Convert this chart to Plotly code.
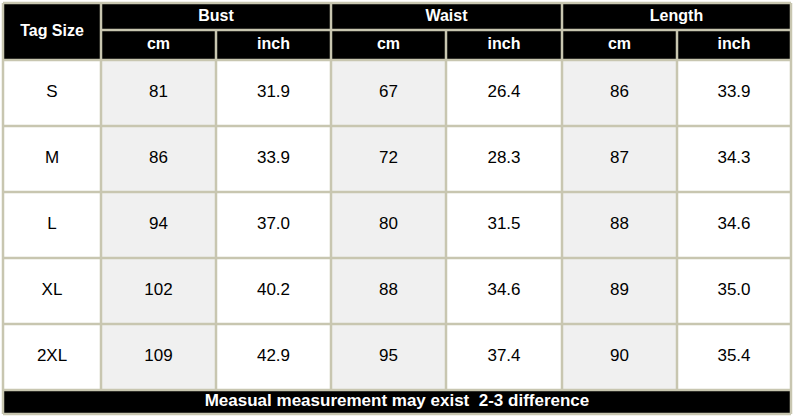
import plotly.graph_objects as go

sizes = ['S', 'M', 'L', 'XL', '2XL']
bust_cm = [81, 86, 94, 102, 109]
bust_in = [31.9, 33.9, 37.0, 40.2, 42.9]
waist_cm = [67, 72, 80, 88, 95]
waist_in = [26.4, 28.3, 31.5, 34.6, 37.4]
length_cm = [86, 87, 88, 89, 90]
length_in = [33.9, 34.3, 34.6, 35.0, 35.4]
groups = ['Bust', 'Waist', 'Length']
units = ['cm', 'inch']
note = 'Measual measurement may exist\u00a0 2-3 difference'

# grid geometry in pixel units of the 795x419 canvas
col_edges = [3, 101, 216, 331, 446, 562, 677, 791]
row_edges = [3, 30, 60, 126, 192, 258, 324, 390, 414]
BORDER = '#c8c6b0'
GREY = '#f0f0f0'
FONT = 'Liberation Sans'

columns = [bust_cm, bust_in, waist_cm, waist_in, length_cm, length_in]

fig = go.Figure()
shapes = []

def rect(x0, x1, y0, y1, fill):
    shapes.append(dict(type='rect', xref='x', yref='y', x0=x0, x1=x1, y0=y0, y1=y1,
                       fillcolor=fill, line=dict(width=0), layer='below'))

# header background + footer
rect(col_edges[0], col_edges[-1], row_edges[0], row_edges[2], 'black')
rect(col_edges[0], col_edges[-1], row_edges[-2], row_edges[-1], 'black')

# body cells, cm columns shaded
for i in range(len(sizes)):
    for j in range(len(columns)):
        fill = GREY if j % 2 == 0 else 'white'
        rect(col_edges[j + 1], col_edges[j + 2], row_edges[i + 2], row_edges[i + 3], fill)

def line(x0, y0, x1, y1):
    shapes.append(dict(type='line', xref='x', yref='y', x0=x0, x1=x1, y0=y0, y1=y1,
                       line=dict(color=BORDER, width=2.5), layer='above'))

# horizontal lines
line(col_edges[0], row_edges[0], col_edges[-1], row_edges[0])
line(col_edges[1], row_edges[1], col_edges[-1], row_edges[1])
for y in row_edges[2:]:
    line(col_edges[0], y, col_edges[-1], y)
# vertical lines
for k, x in enumerate(col_edges):
    if k in (0, len(col_edges) - 1):
        line(x, row_edges[0], x, row_edges[-1])
    elif k % 2 == 1:
        line(x, row_edges[0], x, row_edges[-2])
    else:
        line(x, row_edges[1], x, row_edges[-2])

def mid(a, b):
    return (a + b) / 2

# header text
hx, hy, ht = [], [], []
hx.append(mid(col_edges[0], col_edges[1])); hy.append(mid(row_edges[0], row_edges[2])); ht.append('Tag Size')
for g, name in enumerate(groups):
    hx.append(mid(col_edges[2 * g + 1], col_edges[2 * g + 3])); hy.append(mid(row_edges[0], row_edges[1])); ht.append(name)
    for u, unit in enumerate(units):
        hx.append(mid(col_edges[2 * g + 1 + u], col_edges[2 * g + 2 + u])); hy.append(mid(row_edges[1], row_edges[2])); ht.append(unit)

fig.add_trace(go.Scatter(x=hx, y=hy, text=ht, mode='text', hoverinfo='skip',
                         textfont=dict(family=FONT, size=16, color='white', weight='bold')))

fig.add_trace(go.Scatter(x=[mid(col_edges[0], col_edges[-1])], y=[mid(row_edges[-2], row_edges[-1])],
                         text=[note], mode='text', hoverinfo='skip',
                         textfont=dict(family=FONT, size=17, color='white', weight='bold')))

# body text
bx, by, bt = [], [], []
for i, s in enumerate(sizes):
    yc = mid(row_edges[i + 2], row_edges[i + 3])
    bx.append(mid(col_edges[0], col_edges[1])); by.append(yc); bt.append(s)
    for j, col in enumerate(columns):
        v = col[i]
        bx.append(mid(col_edges[j + 1], col_edges[j + 2])); by.append(yc)
        bt.append(str(v) if j % 2 == 0 else f'{v:.1f}')

fig.add_trace(go.Scatter(x=bx, y=by, text=bt, mode='text', hoverinfo='skip',
                         textfont=dict(family=FONT, size=17, color='black')))

fig.update_layout(
    width=795, height=419,
    margin=dict(l=0, r=0, t=0, b=0),
    paper_bgcolor='white', plot_bgcolor='white',
    showlegend=False,
    shapes=shapes,
    xaxis=dict(range=[0, 795], visible=False, fixedrange=True),
    yaxis=dict(range=[419, 0], visible=False, fixedrange=True),
)

fig.write_html("out.html", config={'displayModeBar': False},
               post_script="document.body.style.margin='0';")
